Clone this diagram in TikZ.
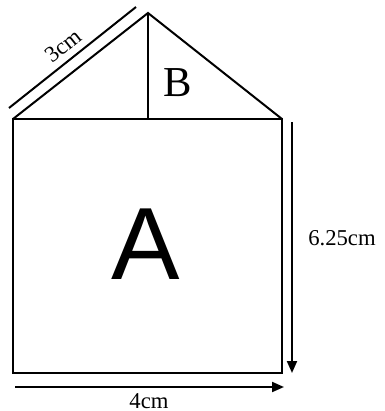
\documentclass[tikz,border=0pt]{standalone}
\usepackage{fontspec}
\setmainfont{Liberation Serif}
\newfontfamily\arialfont{Liberation Sans}
\usetikzlibrary{arrows.meta}

\begin{document}
\begin{tikzpicture}[x=0.75pt, y=-0.75pt, line width=1.5pt, >={Triangle[length=9pt,width=7.5pt]},
    dimlabel/.style={font=\fontsize{17}{19}\selectfont, inner sep=0pt}]

        \useasboundingbox (0,0) rectangle (385,411);

        % Corners of the shape
        \coordinate (tl) at (13,119);
        \coordinate (tr) at (282,119);
        \coordinate (br) at (282,373);
        \coordinate (bl) at (13,373);
        \coordinate (apex) at (148,13);
        \coordinate (foot) at (148,119);

        % Square and triangle
        \draw (tl) -- (tr) -- (br) -- (bl) -- cycle;
        \draw (tl) -- (apex) -- (tr);
        \draw (apex) -- (foot);

        % Region labels
        \node (A) at (146,244) {\arialfont\fontsize{77}{77}\selectfont A};
        \node (B) at (178,83) {\fontsize{32}{32}\selectfont B};

        % Slant side
        \coordinate (s1) at (9,108);
        \coordinate (s2) at (136,7);
        \draw (s1) -- (s2);
        \node[dimlabel, rotate=38.5] (side) at (63,46) {3cm};

        % Height
        \coordinate (h1) at (292,122);
        \coordinate (h2) at (292,373);
        \draw[->] (h1) -- (h2);
        \node[dimlabel] (height) at (342,238) {6.25cm};

        % Width
        \coordinate (w1) at (15,387);
        \coordinate (w2) at (284,387);
        \draw[->] (w1) -- (w2);
        \node[dimlabel] (width) at (149,401) {4cm};

    \end{tikzpicture}
\end{document}
